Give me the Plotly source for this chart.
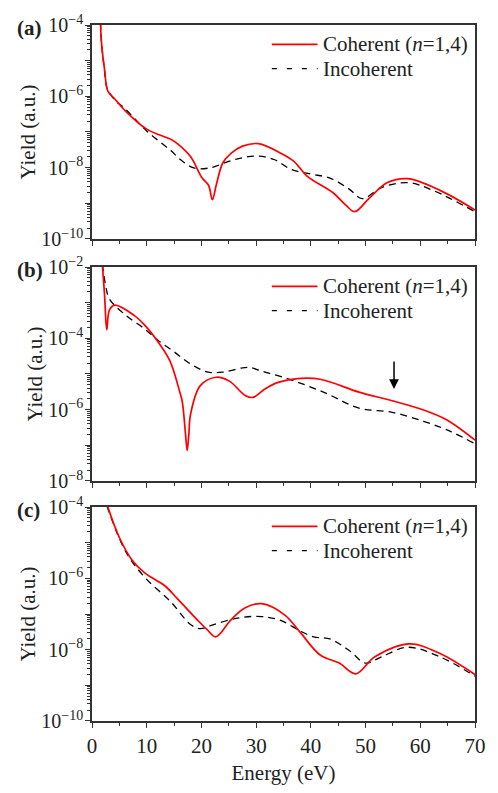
import plotly.graph_objects as go
from plotly.subplots import make_subplots

# ---------------- data ----------------
# Panel (a)
energy_a_coh = [1.55, 1.75, 2.3, 2.9, 4.1, 5.9, 10, 14.7, 15.6, 18, 20.1, 21.3, 22, 22.7, 23.9, 25.4, 27.5,
                30.4, 34.6, 36.9, 39.3, 44, 46.4, 48, 50.6, 54, 57.7, 63.6, 70]
yield_a_coh = [1.2e-4, 3.0e-5, 5.6e-6, 1.4e-6, 8.7e-7, 4.2e-7, 1.2e-7, 5.9e-8, 4.7e-8, 2.05e-8, 5.2e-9,
               3.2e-9, 1.26e-9, 3.2e-9, 1.35e-8, 2.5e-8, 4.0e-8, 4.7e-8, 2.5e-8, 1.5e-8, 5.8e-9, 2.0e-9,
               8.9e-10, 5.8e-10, 1.35e-9, 3.8e-9, 4.9e-9, 2.3e-9, 6.5e-10]
energy_a_inc = [1.55, 1.75, 2.3, 2.7, 4.1, 5.9, 10, 14.4, 16.2, 18.6, 21.5, 25, 27.5, 30.4, 33.4, 36.4,
                40, 43.5, 47, 49.4, 52.9, 57.7, 62.3, 70]
yield_a_inc = [1.2e-4, 3.0e-5, 5.0e-6, 1.8e-6, 8.1e-7, 4.7e-7, 1.07e-7, 3.0e-8, 1.66e-8, 9.8e-9, 9.8e-9,
               1.5e-8, 1.9e-8, 2.1e-8, 1.66e-8, 8.9e-9, 6.6e-9, 5.1e-9, 2.5e-9, 1.35e-9, 2.75e-9, 3.8e-9,
               2.3e-9, 5.8e-10]

# Panel (b)
energy_b_coh = [1.85, 2.3, 2.7, 3.2, 4.2, 7.7, 9.8, 11.8, 14.2, 16, 16.5, 17.1, 17.4, 17.7, 18, 19.8,
                22.7, 25.1, 28, 29.4, 31.6, 34, 37.5, 41.7, 48.8, 54.7, 60.6, 64.8, 70]
yield_b_coh = [1.5e-2, 1.6e-3, 1.74e-4, 6.3e-4, 8.5e-4, 4.4e-4, 2.2e-4, 9.1e-5, 2.4e-5, 3.3e-6, 1.66e-6,
               2.0e-7, 7.2e-8, 2.0e-7, 7.2e-7, 4.7e-6, 8.1e-6, 6.3e-6, 2.5e-6, 2.2e-6, 3.8e-6, 5.8e-6,
               7.4e-6, 7.1e-6, 3.1e-6, 1.8e-6, 9.8e-7, 5.2e-7, 1.4e-7]
energy_b_inc = [1.9, 2.5, 3.2, 6.2, 9.7, 12.1, 15, 17.8, 21, 23.9, 27.5, 29, 31, 35.2, 42.3, 48.8, 54.7,
                60.6, 65.4, 70]
yield_b_inc = [1.2e-2, 3.0e-3, 1.26e-3, 4.4e-4, 1.8e-4, 8.7e-5, 4.2e-5, 2.0e-5, 1.15e-5, 1.12e-5, 1.48e-5,
               1.5e-5, 1.2e-5, 7.9e-6, 3.1e-6, 1.1e-6, 8.5e-7, 4.7e-7, 2.5e-7, 1.1e-7]

# Panel (c)
energy_c_coh = [2.8, 5, 7.3, 9.7, 13.3, 15.6, 19.2, 21, 22.6, 25.4, 28, 31, 35.2, 38.1, 41.7, 45.2, 48.2,
                51.7, 58, 63.6, 70]
yield_c_coh = [1.1e-4, 1.4e-5, 3.3e-6, 1.4e-6, 6.2e-7, 2.7e-7, 7.0e-8, 3.7e-8, 2.3e-8, 6.9e-8, 1.5e-7,
               1.95e-7, 9.5e-8, 3.0e-8, 7.1e-9, 4.2e-9, 2.1e-9, 6.3e-9, 1.45e-8, 7.8e-9, 2.0e-9]
energy_c_inc = [2.7, 6.2, 9.7, 14.4, 18, 19.8, 22.1, 26.9, 31, 34.6, 38.1, 40.5, 43.5, 47, 50, 52.9,
                57.7, 63.6, 70]
yield_c_inc = [1.1e-4, 5.5e-6, 1.05e-6, 2.2e-7, 5.1e-8, 3.9e-8, 5.0e-8, 7.8e-8, 8.5e-8, 6.5e-8, 3.3e-8,
               2.3e-8, 2.0e-8, 9.5e-9, 4.2e-9, 6.3e-9, 1.17e-8, 6.3e-9, 1.8e-9]

panel_labels = ["(a)", "(b)", "(c)"]
y_ranges_exp = [(-10, -4), (-8, -2), (-10, -4)]
x_ticks = [0, 10, 20, 30, 40, 50, 60, 70]
coh_name = "Coherent (<i>n</i>=1,4)"
inc_name = "Incoherent"
arrow_energy = 55.2
arrow_tail_exp, arrow_head_exp = -4.61, -5.42

# ---------------- figure ----------------
FONT = "Liberation Serif, Times New Roman, serif"
TXT = "#222"
AX = "#333"
RED = "#ff0000"
W, H = 498, 793
ML, MR, MT, MB = 92, 12, 14, 60
panel_tops = [14, 264, 512]
panel_bottoms = [235, 485, 733]


def py(pix):
    return (H - MB - pix) / (H - MT - MB)


def px(pix):
    return (pix - ML) / (W - ML - MR)


domains = [(py(b), py(t)) for t, b in zip(panel_tops, panel_bottoms)]

fig = make_subplots(rows=3, cols=1)

data = [
    (energy_a_coh, yield_a_coh, energy_a_inc, yield_a_inc),
    (energy_b_coh, yield_b_coh, energy_b_inc, yield_b_inc),
    (energy_c_coh, yield_c_coh, energy_c_inc, yield_c_inc),
]

for i, (ec, yc, ei, yi) in enumerate(data):
    fig.add_trace(go.Scatter(x=ei, y=yi, mode="lines", name=inc_name, showlegend=False,
                             line=dict(color="black", width=1.3, dash="7px,5px", shape="spline", smoothing=1.0)),
                  row=i + 1, col=1)
    fig.add_trace(go.Scatter(x=ec, y=yc, mode="lines", name=coh_name, showlegend=False,
                             line=dict(color=RED, width=1.7, shape="spline", smoothing=1.0)),
                  row=i + 1, col=1)

for i in range(3):
    lo, hi = y_ranges_exp[i]
    major = [10.0 ** e for e in range(lo, hi + 1)]
    texts = [f"10<sup>−{-e}</sup>" if (e - lo) % 2 == 0 else "" for e in range(lo, hi + 1)]
    minor = [k * 10.0 ** e for e in range(lo, hi) for k in range(2, 10)]
    yname = "yaxis" if i == 0 else f"yaxis{i+1}"
    xname = "xaxis" if i == 0 else f"xaxis{i+1}"
    fig.layout[yname].update(
        type="log", range=[lo, hi], domain=list(domains[i]),
        tickmode="array", tickvals=major, ticktext=texts,
        ticks="outside", ticklen=5, tickwidth=1.2, tickcolor=AX,
        minor=dict(tickmode="array", tickvals=minor, ticks="outside", ticklen=3, tickwidth=1, tickcolor=AX),
        showline=True, linecolor=AX, linewidth=1.5, mirror=True, showgrid=False, zeroline=False,
        tickfont=dict(family=FONT, size=20, color=TXT), ticklabelstandoff=-2,
        title=dict(text="Yield (a.u.)", font=dict(family=FONT, size=21, color=TXT), standoff=0),
    )
    fig.layout[xname].update(
        range=[0, 70], tickmode="array", tickvals=x_ticks,
        ticks="outside", ticklen=5, tickwidth=1.2, tickcolor=AX,
        minor=dict(dtick=5, ticks="outside", ticklen=3, tickwidth=1, tickcolor=AX),
        showline=True, linecolor=AX, linewidth=1.5, mirror=True, showgrid=False, zeroline=False,
        showticklabels=(i == 2),
        tickfont=dict(family=FONT, size=21, color=TXT),
    )
    # panel label
    fig.add_annotation(text=f"<b>{panel_labels[i]}</b>", xref="paper", yref="paper",
                       x=px(13), y=py(panel_tops[i] + 3), xanchor="left", yanchor="middle", showarrow=False,
                       font=dict(family=FONT, size=21, color=TXT))
    # legend (drawn as keys + text)
    top = panel_tops[i]
    for row, (name, color, width, dash) in enumerate([(coh_name, RED, 1.7, "solid"),
                                                      (inc_name, "black", 1.3, "5px,10px")]):
        yk = py(top + 20 + 25 * row)
        fig.add_shape(type="line", xref="paper", yref="paper", x0=px(277), x1=px(324), y0=yk, y1=yk,
                      line=dict(color=color, width=width, dash=dash))
        fig.add_annotation(text=name, xref="paper", yref="paper", x=px(328), y=yk,
                           xanchor="left", yanchor="middle", showarrow=False,
                           font=dict(family=FONT, size=21, color=TXT))

fig.layout.xaxis3.title = dict(text="Energy (eV)", font=dict(family=FONT, size=21, color=TXT), standoff=8)

fig.add_annotation(x=arrow_energy, y=arrow_head_exp, ax=arrow_energy, ay=arrow_tail_exp,
                   xref="x2", yref="y2", axref="x2", ayref="y2", text="", showarrow=True,
                   arrowhead=2, arrowsize=1.3, arrowwidth=1.5, arrowcolor="black")

fig.update_layout(width=W, height=H, margin=dict(l=ML, r=MR, t=MT, b=MB),
                  paper_bgcolor="white", plot_bgcolor="white", showlegend=False)

fig.write_html("out.html")
